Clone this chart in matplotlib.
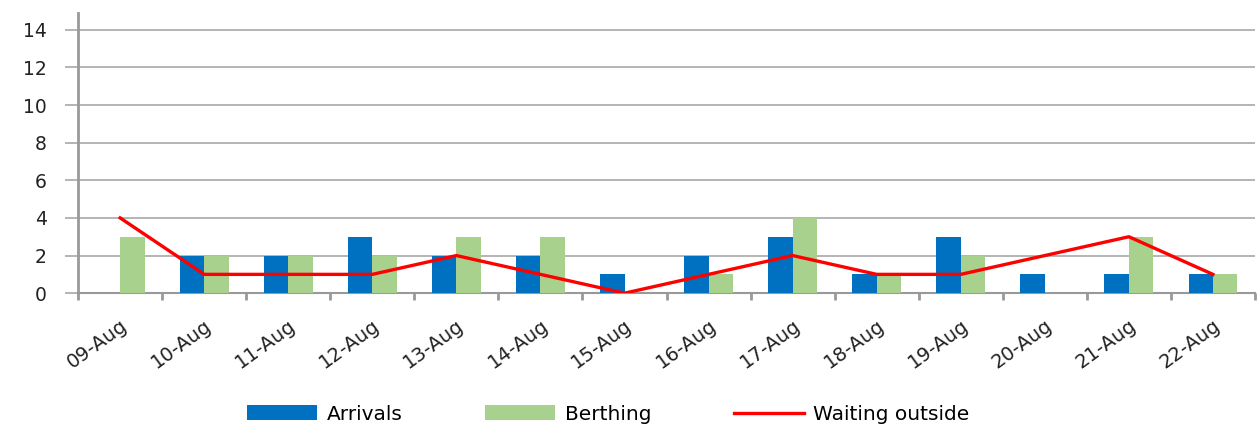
import matplotlib
matplotlib.use("Agg")
import matplotlib.pyplot as plt
import numpy as np

categories = ["09-Aug", "10-Aug", "11-Aug", "12-Aug", "13-Aug", "14-Aug", "15-Aug",
              "16-Aug", "17-Aug", "18-Aug", "19-Aug", "20-Aug", "21-Aug", "22-Aug"]
arrivals = [0, 2, 2, 3, 2, 2, 1, 2, 3, 1, 3, 1, 1, 1]
berthing = [3, 2, 2, 2, 3, 3, 0, 1, 4, 1, 2, 0, 3, 1]
waiting = [4, 1, 1, 1, 2, 1, 0, 1, 2, 1, 1, 2, 3, 1]
yticks = [0, 2, 4, 6, 8, 10, 12, 14]

plt.rcParams['font.family'] = ['DejaVu Sans']

fig = plt.figure(figsize=(12.6, 4.28), dpi=100)
ax = fig.add_axes([0.062, 0.315, 0.934, 0.655])

x = np.arange(len(categories))
w = 0.29
ax.bar(x - w/2, arrivals, w, color="#0070C0", label="Arrivals", zorder=3)
ax.bar(x + w/2, berthing, w, color="#A9D18E", label="Berthing", zorder=3)
ax.plot(x, waiting, color="#FF0000", lw=2.4, label="Waiting outside", zorder=4)

ax.set_xlim(-0.5, len(categories) - 0.5)
ax.set_ylim(0, 14.9)
ax.set_yticks(yticks)
ax.set_yticklabels([str(v) for v in yticks], fontsize=13.5, color="#222222")
ax.yaxis.grid(True, color="#a0a0a0", lw=1.1, zorder=0)
ax.tick_params(axis='y', length=9.5, color="#a0a0a0", width=1.1, pad=13)

ax.set_xticks(np.arange(-0.5, len(categories), 1.0))
ax.set_xticklabels([])
ax.tick_params(axis='x', which='major', length=5, color="#999999", width=2)
ax.set_xticks(x, minor=True)
ax.set_xticklabels(categories, minor=True, rotation=36, ha='right',
                   rotation_mode='anchor', fontsize=14, color="#222222")
ax.tick_params(axis='x', which='minor', length=0, pad=16)

for s in ['top', 'right']:
    ax.spines[s].set_visible(False)
ax.spines['left'].set_color("#999999")
ax.spines['left'].set_linewidth(2)
ax.spines['bottom'].set_color("#999999")
ax.spines['bottom'].set_linewidth(1.5)

handles, labels = ax.get_legend_handles_labels()
order = [1, 2, 0]
fig.legend([handles[i] for i in order], [labels[i] for i in order],
           loc='center left', bbox_to_anchor=(0.196, 0.032), ncol=3, frameon=False,
           fontsize=14.5, handlelength=3.5, handleheight=0.75, columnspacing=4.1,
           handletextpad=0.45, borderpad=0, borderaxespad=0)

fig.savefig("out.png", dpi=100)
